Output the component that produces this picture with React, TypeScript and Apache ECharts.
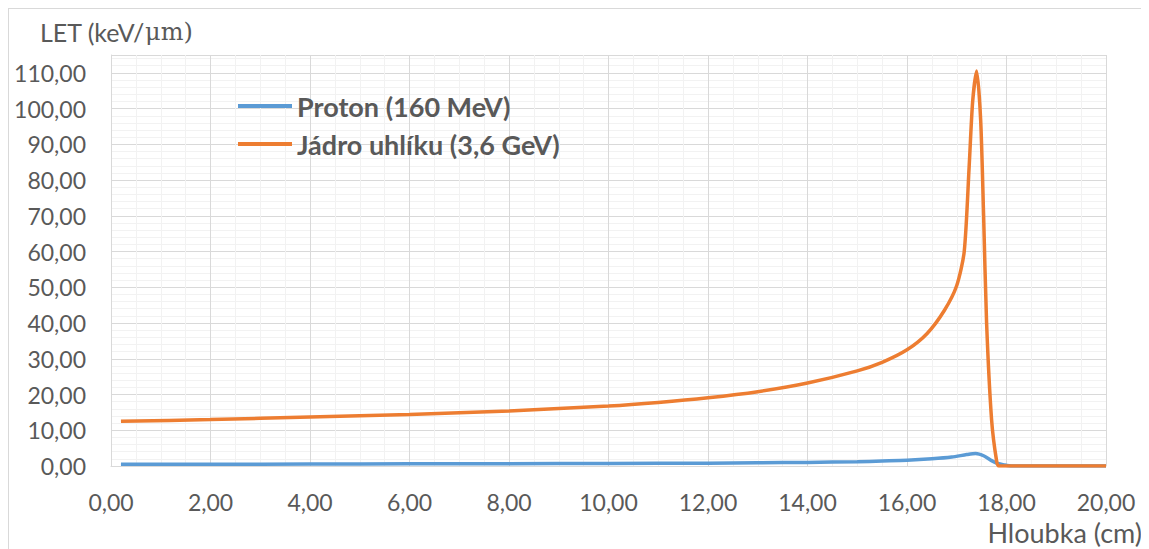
import React, { useEffect, useRef } from "react";
import * as echarts from "echarts";

const seriesNames = ["Proton (160 MeV)", "Jádro uhlíku (3,6 GeV)"];

const protonX = [0.2, 2, 4, 6, 8, 10, 12, 13, 14, 15, 15.5, 16, 16.5, 16.9, 17.2, 17.38, 17.55, 17.7, 17.82, 17.95, 18.1, 19, 20];
const protonY = [0.5, 0.5, 0.55, 0.6, 0.65, 0.7, 0.8, 0.9, 1.0, 1.2, 1.4, 1.6, 2.0, 2.5, 3.2, 3.5, 2.8, 1.5, 0.7, 0.3, 0, 0, 0];

const carbonX = [0.2, 2, 4, 6, 8, 10, 11, 12, 13, 14, 15, 15.5, 16, 16.4, 16.75, 17.0, 17.15, 17.25, 17.32, 17.4, 17.48, 17.54, 17.6, 17.7, 17.8, 17.85, 18.5, 20];
const carbonY = [12.5, 13.0, 13.7, 14.4, 15.4, 16.8, 17.8, 19.1, 20.8, 23.2, 26.6, 29.0, 32.5, 37.0, 43.5, 50.5, 60, 84, 102, 110.5, 97, 70, 40, 13, 1.5, 0, 0, 0];

const xMin = 0;
const xMax = 20;
const xStep = 2;
const yMin = 0;
const yMax = 115;
const yStep = 10;
const yMinorStep = 2;

const FONT = "Lato";
const GREY = "#595959";

const fmt = (v: number) => v.toFixed(2).replace(".", ",");

export default function App() {
  const ref = useRef<HTMLDivElement>(null);
  useEffect(() => {
    if (!ref.current) return;
    const chart = echarts.init(ref.current, undefined, { renderer: "svg" });
    const pairs = (xs: number[], ys: number[]) => xs.map((x, i) => [x, ys[i]]);
    chart.setOption({
      animation: false,
      textStyle: { fontFamily: FONT },
      grid: { left: 102, top: 46, right: 43, bottom: 83, containLabel: false },
      legend: {
        show: true,
        orient: "vertical",
        left: 224,
        top: 78,
        itemWidth: 54,
        itemHeight: 4,
        itemGap: 10,
        icon: "rect",
        data: seriesNames,
        textStyle: { fontFamily: FONT, fontSize: 27, fontWeight: "bold", color: GREY, lineHeight: 28 },
      },
      xAxis: [
        {
          type: "value",
          min: xMin,
          max: xMax,
          interval: xStep,
          z: 1,
          axisLine: { show: true, onZero: false, lineStyle: { color: "#d9d9d9", width: 1 } },
          axisTick: { show: false },
          axisLabel: { formatter: (v: number) => fmt(v), color: GREY, fontSize: 23, fontFamily: FONT, margin: 24 },
          splitLine: { show: true, lineStyle: { color: "#d9d9d9", width: 1 } },
          minorTick: { show: false, splitNumber: 4 },
          minorSplitLine: { show: true, lineStyle: { color: "#f2f2f2", width: 1 } },
        },
      ],
      yAxis: [
        {
          type: "value",
          min: yMin,
          max: yMax,
          interval: yMinorStep,
          z: 0,
          position: "left",
          axisLine: { show: false },
          axisTick: { show: false },
          axisLabel: { show: false },
          splitLine: { show: true, lineStyle: { color: "#f2f2f2", width: 1 } },
        },
        {
          type: "value",
          min: yMin,
          max: yMax,
          interval: yStep,
          z: 1,
          position: "left",
          axisLine: { show: true, lineStyle: { color: "#d9d9d9", width: 1 } },
          axisTick: { show: false },
          showMaxLabel: false,
          axisLabel: {
            formatter: (v: number) => (v % yStep === 0 ? fmt(v) : ""),
            color: GREY,
            fontSize: 23,
            fontFamily: FONT,
            margin: 25,
          },
          splitLine: { show: true, lineStyle: { color: "#d9d9d9", width: 1 } },
        },
      ],
      graphic: [
        {
          type: "text",
          left: 31,
          top: 10,
          style: {
            text: "{a|LET (keV/}{b|μm)}",
            rich: {
              a: { fontFamily: FONT, fontSize: 25, fill: GREY, color: GREY },
              b: { fontFamily: "DejaVu Serif", fontSize: 24, fill: GREY, color: GREY },
            },
          },
        },
        {
          type: "text",
          right: 7,
          top: 510,
          style: { text: "Hloubka (cm)", fontFamily: FONT, fontSize: 27, fill: GREY },
        },
      ],
      series: [
        {
          name: seriesNames[0],
          type: "line",
          xAxisIndex: 0,
          yAxisIndex: 1,
          data: pairs(protonX, protonY),
          showSymbol: false,
          smooth: 0.25,
          lineStyle: { color: "#5b9bd5", width: 3.5 },
          itemStyle: { color: "#5b9bd5" },
        },
        {
          name: seriesNames[1],
          type: "line",
          xAxisIndex: 0,
          yAxisIndex: 1,
          data: pairs(carbonX, carbonY),
          showSymbol: false,
          smooth: 0.25,
          lineStyle: { color: "#ed7d31", width: 3.5 },
          itemStyle: { color: "#ed7d31" },
        },
      ],
    });
    return () => chart.dispose();
  }, []);
  return (
    <div style={{ width: 1141, height: 541, boxSizing: "border-box", borderTop: "1px solid #d9d9d9", borderLeft: "1px solid #d9d9d9", background: "#fff" }}>
      <div ref={ref} style={{ width: 1140, height: 540 }} />
    </div>
  );
}
